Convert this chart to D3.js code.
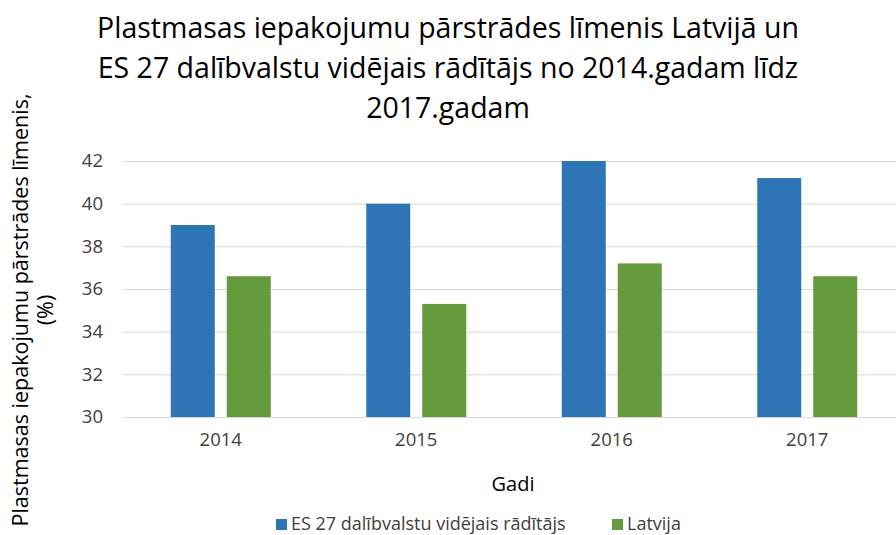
<!DOCTYPE html>
<html>
<head>
<meta charset="utf-8">
<style>
body { margin: 0; background: #fff; }
svg text { font-family: "Open Sans", "Noto Sans", sans-serif; fill: #404040; }
</style>
</head>
<body>
<svg width="896" height="535"></svg>
<script src="https://d3js.org/d3.v7.min.js"></script>
<script>
// data
var years = ["2014", "2015", "2016", "2017"];
var seriesNames = ["ES 27 dalībvalstu vidējais rādītājs", "Latvija"];
var esValues = [39.0, 40.0, 42.0, 41.2];
var lvValues = [36.6, 35.3, 37.2, 36.6];
var yTicks = [30, 32, 34, 36, 38, 40, 42];
var titleLines = ["Plastmasas iepakojumu pārstrādes līmenis Latvijā un",
                  "ES 27 dalībvalstu vidējais rādītājs no 2014.gadam līdz",
                  "2017.gadam"];
var yLabelLines = ["Plastmasas iepakojumu pārstrādes līmenis,", "(%)"];
var colors = ["#2e75b6", "#639b3d"];

var svg = d3.select("svg");

var x = d3.scaleBand()
    .domain(years)
    .range([123, 905]);

var xSub = d3.scaleBand()
    .domain(seriesNames)
    .range([0, 100])
    .paddingInner(0.214);

var y = d3.scaleLinear()
    .domain([30, 42])
    .range([417, 161]);

// gridlines
svg.append("g")
    .selectAll("line")
    .data(yTicks)
    .enter().append("line")
    .attr("x1", 123)
    .attr("x2", 905)
    .attr("y1", function(d) { return y(d) + 0.5; })
    .attr("y2", function(d) { return y(d) + 0.5; })
    .attr("stroke", "#d9d9d9")
    .attr("stroke-width", 1);

// y tick labels
var yAxis = svg.append("g")
    .attr("transform", "translate(123,0)")
    .call(d3.axisLeft(y).tickValues(yTicks).tickSize(0).tickPadding(20));
yAxis.select(".domain").remove();
yAxis.selectAll("text")
    .attr("font-size", "18.5px")
    .attr("font-family", null)
    .attr("fill", "#404040");

// x tick labels
var xAxis = svg.append("g")
    .attr("transform", "translate(0,417)")
    .call(d3.axisBottom(x).tickSize(0).tickPadding(16));
xAxis.select(".domain").remove();
xAxis.selectAll("text")
    .attr("font-size", "18.5px")
    .attr("font-family", null)
    .attr("fill", "#404040");

// bars
var groupOffset = (x.bandwidth() - 100) / 2;
var rows = years.map(function(yr, i) {
  return { year: yr, vals: [esValues[i], lvValues[i]] };
});

svg.append("g")
    .selectAll("g")
    .data(rows)
    .enter().append("g")
    .attr("transform", function(d) { return "translate(" + (x(d.year) + groupOffset) + ",0)"; })
    .selectAll("rect")
    .data(function(d) { return d.vals.map(function(v, j) { return { name: seriesNames[j], value: v, j: j }; }); })
    .enter().append("rect")
    .attr("x", function(d) { return xSub(d.name); })
    .attr("width", xSub.bandwidth())
    .attr("y", function(d) { return y(d.value); })
    .attr("height", function(d) { return y(30) - y(d.value); })
    .attr("fill", function(d) { return colors[d.j]; });

// title
svg.append("g")
    .selectAll("text")
    .data(titleLines)
    .enter().append("text")
    .attr("x", 448)
    .attr("y", function(d, i) { return 38 + i * 40; })
    .attr("text-anchor", "middle")
    .attr("font-size", "28.5px")
    .style("fill", "#000")
    .text(function(d) { return d; });

// y axis label
svg.append("g")
    .attr("transform", "translate(0,310) rotate(-90)")
    .selectAll("text")
    .data(yLabelLines)
    .enter().append("text")
    .attr("x", 0)
    .attr("y", function(d, i) { return 28 + i * 25; })
    .attr("text-anchor", "middle")
    .attr("font-size", "21.5px")
    .style("fill", "#000")
    .text(function(d) { return d; });

// x axis label
svg.append("text")
    .attr("x", 513)
    .attr("y", 491)
    .attr("text-anchor", "middle")
    .attr("font-size", "20px")
    .style("fill", "#000")
    .text("Gadi");

// legend
var legendX = [276, 612];
var legend = svg.append("g")
    .selectAll("g")
    .data(seriesNames)
    .enter().append("g")
    .attr("transform", function(d, i) { return "translate(" + legendX[i] + ",519)"; });
legend.append("rect")
    .attr("width", 11)
    .attr("height", 11)
    .attr("fill", function(d, i) { return colors[i]; });
legend.append("text")
    .attr("x", 15)
    .attr("y", 11)
    .attr("font-size", "18px")
    .text(function(d) { return d; });
</script>
</body>
</html>
